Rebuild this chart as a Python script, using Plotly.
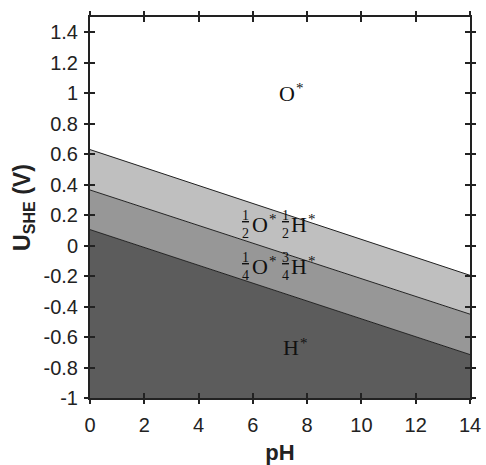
import plotly.graph_objects as go

# Data
ph = [0, 14]
line_top = [0.63, -0.195]      # O* / 1/2O*1/2H* boundary
line_mid = [0.365, -0.45]      # 1/2O*1/2H* / 1/4O*3/4H* boundary
line_bot = [0.105, -0.715]     # 1/4O*3/4H* / H* boundary
y_min, y_max = -1, 1.5
x_ticks = [0, 2, 4, 6, 8, 10, 12, 14]
y_ticks = [-1, -0.8, -0.6, -0.4, -0.2, 0, 0.2, 0.4, 0.6, 0.8, 1, 1.2, 1.4]
y_tick_text = ["-1", "-0.8", "-0.6", "-0.4", "-0.2", "0", "0.2", "0.4", "0.6", "0.8", "1", "1.2", "1.4"]

c_bot = "#5c5c5c"
c_mid = "#979797"
c_top = "#bfbfbf"

fig = go.Figure()
fig.add_trace(go.Scatter(x=ph, y=[y_min, y_min], mode="lines", line=dict(width=0), showlegend=False, hoverinfo="skip"))
fig.add_trace(go.Scatter(x=ph, y=line_bot, mode="lines", line=dict(color="#222", width=1), fill="tonexty", fillcolor=c_bot, showlegend=False))
fig.add_trace(go.Scatter(x=ph, y=line_mid, mode="lines", line=dict(color="#222", width=1), fill="tonexty", fillcolor=c_mid, showlegend=False))
fig.add_trace(go.Scatter(x=ph, y=line_top, mode="lines", line=dict(color="#222", width=1), fill="tonexty", fillcolor=c_top, showlegend=False))
# overlay axes for outside ticks (crossing tick marks)
fig.add_trace(go.Scatter(x=ph, y=[y_min, y_min], xaxis="x2", yaxis="y2", mode="lines", line=dict(width=0), showlegend=False, hoverinfo="skip"))

axis_font = dict(family="Liberation Sans, Arial", size=20, color="#222")
fig.update_layout(
    width=486, height=465,
    margin=dict(l=90, r=16, t=17, b=67, autoexpand=False),
    plot_bgcolor="white", paper_bgcolor="white",
    xaxis=dict(range=[0, 14], tickvals=x_ticks, ticks="inside", ticklen=5, tickwidth=2, tickcolor="#222",
               showline=True, linewidth=2, linecolor="#222", mirror="ticks", showgrid=False, zeroline=False,
               tickfont=axis_font, ticklabelstandoff=8, automargin=False,
               title=dict(text="<b>pH</b>", font=dict(family="Liberation Sans, Arial", size=22, color="#222"), standoff=10)),
    yaxis=dict(range=[y_min, y_max], tickvals=y_ticks, ticktext=y_tick_text, ticks="inside", ticklen=5, tickwidth=2, tickcolor="#222",
               showline=True, linewidth=2, linecolor="#222", mirror="ticks", showgrid=False, zeroline=False,
               tickfont=axis_font, ticklabelstandoff=6, automargin=False,
               title=dict(text="<b>U<sub>SHE</sub> (V)</b>", font=dict(family="Liberation Sans, Arial", size=23, color="#222"), standoff=6)),
    xaxis2=dict(overlaying="x", matches="x", range=[0, 14], tickvals=x_ticks, ticks="outside", ticklen=5, tickwidth=2,
                tickcolor="#222", showticklabels=False, mirror="ticks", showline=False, showgrid=False, zeroline=False, automargin=False),
    yaxis2=dict(overlaying="y", matches="y", range=[y_min, y_max], tickvals=y_ticks, ticks="outside", ticklen=5, tickwidth=2,
                tickcolor="#222", showticklabels=False, mirror="ticks", showline=False, showgrid=False, zeroline=False, automargin=False),
)

serif = "Liberation Serif, Times New Roman, serif"
big = dict(family=serif, size=22, color="#111")
small = dict(family=serif, size=14, color="#111")
star_font = dict(family=serif, size=15, color="#111")

def label(x, y, letter, shift=0):
    fig.add_annotation(x=x, y=y, text=letter, showarrow=False, xanchor="left", yanchor="middle", xshift=shift, font=big)
    fig.add_annotation(x=x, y=y, text="*", showarrow=False, xanchor="left", yanchor="middle",
                       xshift=shift + 17, yshift=5, font=star_font)

def frac(x, y, num, den, shift):
    fig.add_annotation(x=x, y=y, text=f"<span style='text-decoration:underline'>{num}</span><br>{den}", showarrow=False,
                       xanchor="center", yanchor="middle", xshift=shift, yshift=0, font=small)

label(6.9, 1.0, "O")
label(7.05, -0.67, "H")

band_labels = [(7.0, 0.14, "1", "2", "1", "2"), (7.0, -0.135, "1", "4", "3", "4")]
for x, y, n1, d1, n2, d2 in band_labels:
    frac(x, y, n1, d1, -35)
    label(x, y, "O", -30)
    frac(x, y, n2, d2, 5)
    label(x, y, "H", 9)

fig.write_html("out.html")
